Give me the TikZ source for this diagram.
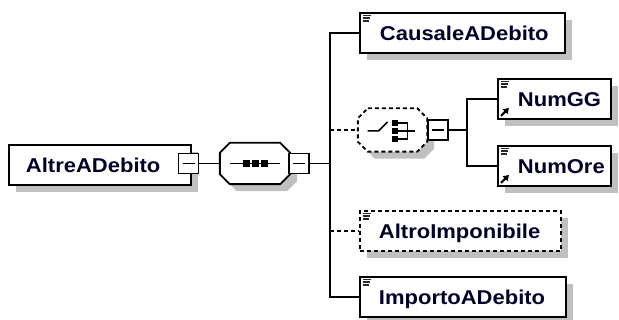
\documentclass[tikz,border=0pt]{standalone}
\usepackage{fontspec}
\newfontfamily\diagfont[FakeStretch=1.1]{Liberation Sans}
\usetikzlibrary{arrows.meta}
\definecolor{elemtext}{RGB}{0,0,40}
\definecolor{shadowgray}{RGB}{192,192,192}
\definecolor{icongray}{RGB}{40,40,40}

\begin{document}
\begin{tikzpicture}[
    x=1pt, y=-1pt,
    shade/.style={preaction={fill=shadowgray, transform canvas={xshift=7pt, yshift=-7pt}}},
    elem/.style={draw, rectangle, line width=1.9pt, fill=white, shade, anchor=north west,
        minimum height=40pt, inner xsep=0pt, inner ysep=0pt, text width=#1, align=left,
        text height=14.5pt, text depth=0pt,
        font=\diagfont\bfseries\fontsize{20}{24}\selectfont, text=elemtext},
    opt/.style={dash pattern=on 4pt off 3pt},
    slot/.style={rectangle, minimum width=#1, minimum height=41pt, inner sep=0pt},
    octagon/.style={insert path={([xshift=10pt]#1.north west) -- ([xshift=-10pt]#1.north east)
        -- ([yshift=-10pt]#1.north east) -- ([yshift=10pt]#1.south east)
        -- ([xshift=-10pt]#1.south east) -- ([xshift=10pt]#1.south west)
        -- ([yshift=10pt]#1.south west) -- ([yshift=-10pt]#1.north west) -- cycle}},
    compline/.style={line width=1.9pt, fill=white, shade},
    minus/.style={draw, rectangle, line width=1.5pt, fill=white, minimum size=20pt, inner sep=0pt,
        path picture={\draw[line width=1.5pt] ([xshift=4pt]path picture bounding box.west) -- ([xshift=-4pt]path picture bounding box.east);}},
    conn/.style={line width=1.5pt},
    sym/.style={line width=1.5pt},
    icon/.style={line width=1.5pt, icongray},
    ref/.style={line width=2pt, -{Triangle[length=5.5pt, width=6.5pt]}}
]
    \useasboundingbox (0,0) rectangle (619,320);

    % root element and its sequence
    \node[elem=182pt] (altre) at (8,144) {\hspace*{17pt}AltreADebito};
    \node[minus] (altreminus) at (188.5,163.5) {};
    \node[slot=70pt] (seq) at (255,163.5) {};
    \draw[compline, octagon=seq];
    \node[minus] (seqminus) at (299,163.5) {};
    \coordinate (fork) at (330,163.5);

    % children
    \node[elem=205pt] (causale) at (359,12) {\hspace*{20pt}CausaleADebito};
    \node[slot=69pt, minimum height=43pt] (choice) at (392.5,130) {};
    \draw[compline, opt, octagon=choice];
    \node[minus] (choiceminus) at (438,130) {};
    \coordinate (subfork) at (467,130);
    \node[elem=113pt] (numgg) at (497,78) {\hspace*{20pt}NumGG};
    \node[elem=113pt] (numore) at (497,145) {\hspace*{20pt}NumOre};
    \node[elem=201pt, opt] (altro) at (359,210) {\hspace*{19pt}AltroImponibile};
    \node[elem=206pt] (importo) at (359,276) {\hspace*{19pt}ImportoADebito};

    % sequence symbol
    \draw[sym] ([xshift=-25pt]seq.center) -- ([xshift=25pt]seq.center);
    \foreach \dx in {-9,0,9}
        \fill ([xshift=\dx pt]seq.center) +(-3.5,-3.5) rectangle +(3.5,3.5);

    % choice symbol
    \begin{scope}[shift={(choice.center)}]
        \draw[sym] (-25,1) -- (-14,1) -- (-5,-8);
        \foreach \dy in {-7,1,9}
            \fill (-1,\dy-3) rectangle (5,\dy+3);
        \draw[sym] (5,-7) -- (15,-7) -- (15,9) -- (5,9);
        \draw[sym] (5,1) -- (22,1);
    \end{scope}

    % element icons
    \foreach \n in {causale, numgg, numore, altro, importo} {
        \draw[icon] ([shift={(3.5,3.5)}]\n.north west) -- ++(8,0);
        \draw[icon] ([shift={(3.5,6.2)}]\n.north west) -- ++(7,0);
        \draw[icon] ([shift={(3.5,8.9)}]\n.north west) -- ++(6,0);
    }
    \foreach \n in {numgg, numore}
        \draw[ref] ([shift={(4,-4)}]\n.south west) -- ++(8,-8);

    % connectors
    \draw[conn] (altreminus.east) -- (seq.west);
    \draw[conn] (seqminus.east) -- (fork);
    \draw[conn] (causale.west) -| (fork) |- (importo.west);
    \draw[conn, opt] (fork |- choice.west) -- (choice.west);
    \draw[conn, opt] (fork |- altro.west) -- (altro.west);
    \draw[conn] (choiceminus.east) -- (subfork);
    \draw[conn] (numgg.west) -| (subfork) |- (numore.west);
\end{tikzpicture}
\end{document}
